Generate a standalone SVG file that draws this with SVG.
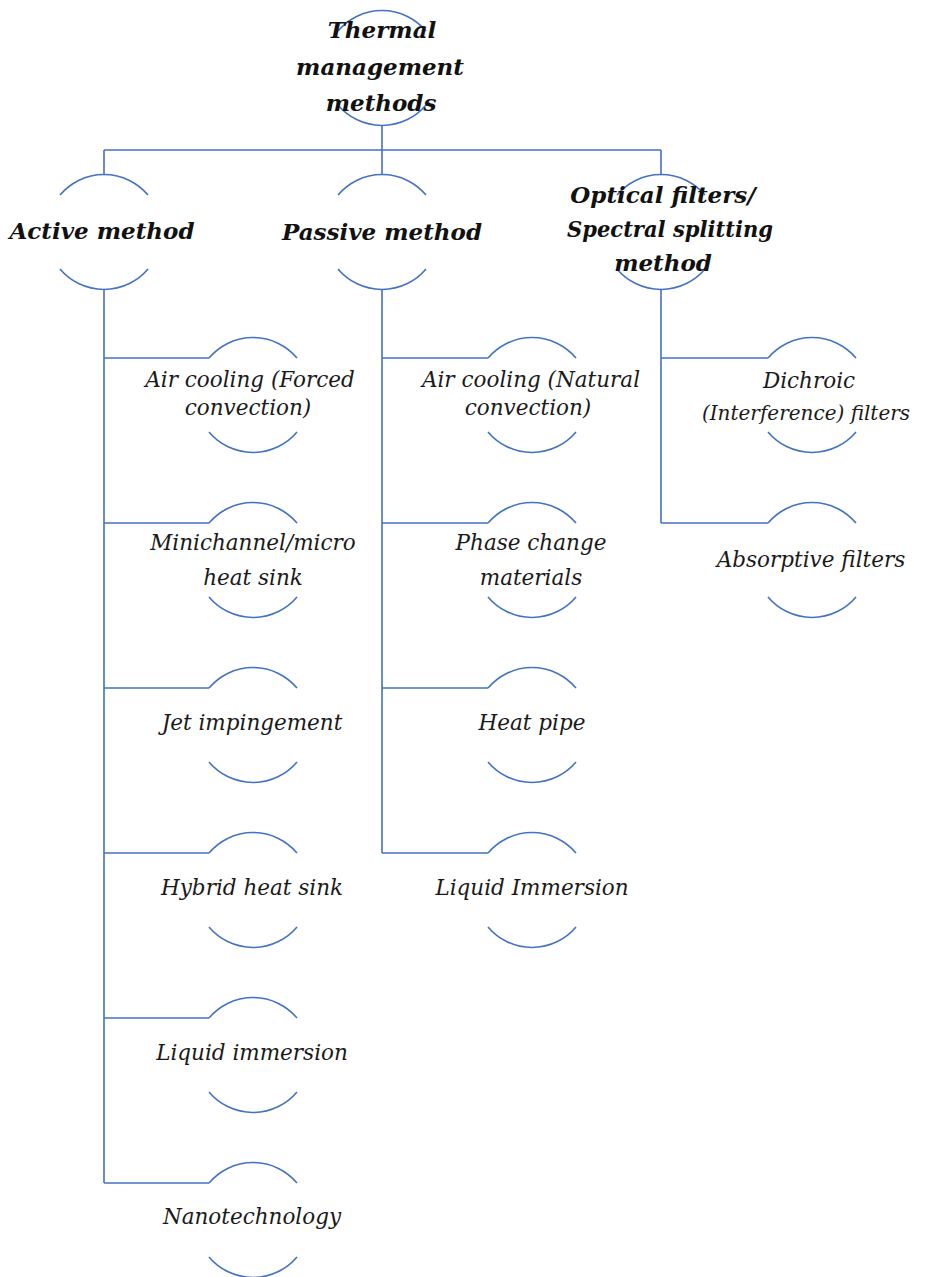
<svg xmlns="http://www.w3.org/2000/svg" xmlns:xlink="http://www.w3.org/1999/xlink" width="925" height="1277" viewBox="0 0 925 1277">
<style>
.ln{fill:none;stroke:#4472C4;stroke-width:1.6}
.t{font-family:"DejaVu Serif","Liberation Serif",serif;font-style:italic;font-size:21.5px;fill:#1a1a1a;text-anchor:middle}
.b{font-family:"DejaVu Serif","Liberation Serif",serif;font-style:italic;font-weight:bold;font-size:23px;fill:#111;text-anchor:middle}
</style>
<defs>
<path id="arcs" class="ln" d="M-44,-37 A57.5,57.5 0 0 1 44,-37 M-44,37 A57.5,57.5 0 0 0 44,37"/>
</defs>
<rect width="925" height="1277" fill="#fff"/>
<g id="connectors" class="ln">
<path d="M382,125.5 V150 M104,150 H661 M104,150 V174.5 M382,150 V174.5 M661,150 V174.5"/>
<path d="M104,289.5 V1183 M104,358 H209 M104,523 H209 M104,688 H209 M104,853 H209 M104,1018 H209 M104,1183 H209"/>
<path d="M382,289.5 V853 M382,358 H488 M382,523 H488 M382,688 H488 M382,853 H488"/>
<path d="M661,289.5 V523 M661,358 H768 M661,523 H768"/>
</g>
<g id="n-root"><use xlink:href="#arcs" x="382" y="68"/>
<text class="b" x="382" y="38">Thermal</text><text class="b" x="380" y="75">management</text><text class="b" x="381" y="111">methods</text></g>
<g id="n-active"><use xlink:href="#arcs" x="104" y="232"/><text class="b" x="102" y="239">Active method</text></g>
<g id="n-passive"><use xlink:href="#arcs" x="382" y="232"/><text class="b" x="382" y="240">Passive method</text></g>
<g id="n-optical"><use xlink:href="#arcs" x="661" y="232"/>
<text class="b" x="663" y="203">Optical filters/</text><text class="b" x="670" y="237" textLength="206" lengthAdjust="spacingAndGlyphs">Spectral splitting</text><text class="b" x="663" y="271">method</text></g>
<g id="n-a1"><use xlink:href="#arcs" x="253" y="395"/><text class="t" x="250" y="387">Air cooling (Forced</text><text class="t" x="248" y="415">convection)</text></g>
<g id="n-a2"><use xlink:href="#arcs" x="253" y="560"/><text class="t" x="253" y="550">Minichannel/micro</text><text class="t" x="253" y="585">heat sink</text></g>
<g id="n-a3"><use xlink:href="#arcs" x="253" y="725"/><text class="t" x="252" y="730">Jet impingement</text></g>
<g id="n-a4"><use xlink:href="#arcs" x="253" y="890"/><text class="t" x="252" y="895">Hybrid heat sink</text></g>
<g id="n-a5"><use xlink:href="#arcs" x="253" y="1055"/><text class="t" x="252" y="1060">Liquid immersion</text></g>
<g id="n-a6"><use xlink:href="#arcs" x="253" y="1220"/><text class="t" x="252" y="1224">Nanotechnology</text></g>
<g id="n-p1"><use xlink:href="#arcs" x="532" y="395"/><text class="t" x="531" y="387">Air cooling (Natural</text><text class="t" x="528" y="415">convection)</text></g>
<g id="n-p2"><use xlink:href="#arcs" x="532" y="560"/><text class="t" x="531" y="550">Phase change</text><text class="t" x="531" y="585">materials</text></g>
<g id="n-p3"><use xlink:href="#arcs" x="532" y="725"/><text class="t" x="532" y="730">Heat pipe</text></g>
<g id="n-p4"><use xlink:href="#arcs" x="532" y="890"/><text class="t" x="532" y="895">Liquid Immersion</text></g>
<g id="n-o1"><use xlink:href="#arcs" x="812" y="395"/><text class="t" x="809" y="388">Dichroic</text><text class="t" x="806" y="420" style="font-size:20px">(Interference) filters</text></g>
<g id="n-o2"><use xlink:href="#arcs" x="812" y="560"/><text class="t" x="811" y="567">Absorptive filters</text></g>
</svg>
